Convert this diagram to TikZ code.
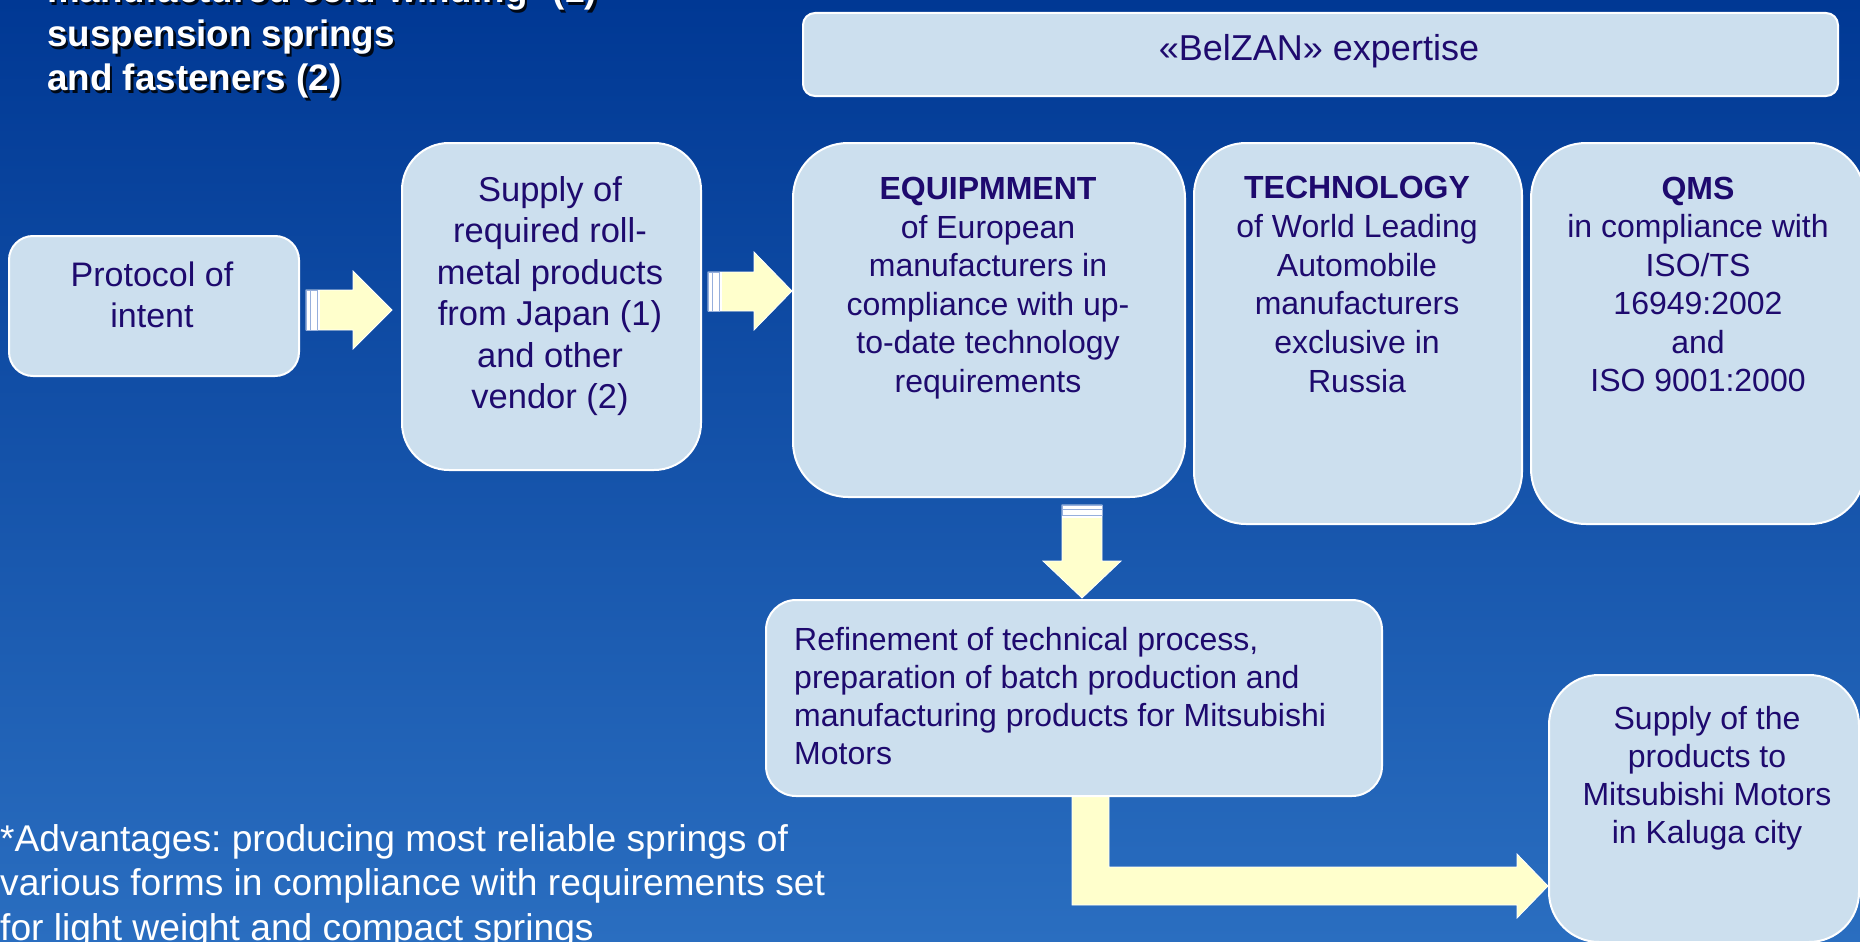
\documentclass[tikz,border=0pt]{standalone}
\usepackage{fontspec}
\setmainfont{Liberation Sans}
\frenchspacing
\definecolor{bgtop}{RGB}{0,56,148}
\definecolor{bgmid}{RGB}{22,82,167}
\definecolor{bgbot}{RGB}{42,110,192}
\definecolor{boxfill}{RGB}{204,223,238}
\definecolor{ink}{RGB}{30,10,110}
\definecolor{arrowfill}{RGB}{255,255,204}
\definecolor{stripeline}{RGB}{150,175,220}
\begin{document}
\begin{tikzpicture}[x=1pt,y=-1pt,
  pbox/.style={draw=white,line width=2pt,fill=boxfill,inner sep=0pt,anchor=north west},
  btext/.style={text=ink,inner sep=0pt,anchor=north,align=center,font=\fontsize{32}{38.5}\selectfont},
  blockarrow/.style={fill=arrowfill,draw=white,line width=0.8pt},
  stripeedge/.style={draw=stripeline,line width=0.8pt},
  wtitle/.style={inner sep=0pt,anchor=north west,align=left,font=\bfseries\fontsize{36.8}{44}\selectfont},
  footnote/.style={text=white,inner sep=0pt,anchor=north west,align=left,font=\fontsize{37.2}{44.5}\selectfont}
]
\useasboundingbox (0,0) rectangle (1860,942);
\clip (0,0) rectangle (1860,942);
\shade[top color=bgtop,middle color=bgmid,bottom color=bgbot] (0,0) rectangle (1860,942);

% title with shadow
\node[wtitle,text=black,opacity=0.85] (titleshadow) at (49.5,-21.5) {manufactured cold-winding* (1)\\suspension springs\\and fasteners (2)};
\node[wtitle,text=white] (title) at (47,-24) {manufactured cold-winding* (1)\\suspension springs\\and fasteners (2)};

% block arrows
\draw[blockarrow] (306,290) -- (353,290) -- (353,271) -- (392,310) -- (353,349) -- (353,330) -- (306,330) -- cycle;
\fill[white] (306,290) rectangle (320,330);
\draw[stripeedge] (306,290) rectangle (310,330) (310,290) rectangle (317,330);

\draw[blockarrow] (708,272) -- (754,272) -- (754,252) -- (792,291) -- (754,330) -- (754,311) -- (708,311) -- cycle;
\fill[white] (708,272) rectangle (722,311);
\draw[stripeedge] (708,272) rectangle (712,311) (712,272) rectangle (719,311);

\draw[blockarrow] (1062,505) -- (1102,505) -- (1102,561) -- (1121,561) -- (1082,598) -- (1043,561) -- (1062,561) -- cycle;
\fill[white] (1062,505) rectangle (1102,518);
\draw[stripeedge] (1062,505) rectangle (1102,509) (1062,509) rectangle (1102,515.5);

\draw[blockarrow] (1072,795) -- (1109,795) -- (1109,867) -- (1517,867) -- (1517,854) -- (1548,886) -- (1517,918) -- (1517,905) -- (1072,905) -- cycle;

% boxes
\node[pbox,rounded corners=24pt,minimum width=290pt,minimum height=140pt] (proto) at (8,235) {};
\node[pbox,rounded corners=47pt,minimum width=299pt,minimum height=327pt] (sup) at (401,142) {};
\node[pbox,rounded corners=12pt,minimum width=1035pt,minimum height=83pt] (belzan) at (802,12) {};
\node[pbox,rounded corners=55pt,minimum width=392pt,minimum height=354pt] (equip) at (792,142) {};
\node[pbox,rounded corners=52pt,minimum width=328pt,minimum height=381pt] (tech) at (1193,142) {};
\node[pbox,rounded corners=55pt,minimum width=334pt,minimum height=381pt] (qms) at (1530,142) {};
\node[pbox,rounded corners=30pt,minimum width=616pt,minimum height=196pt] (refine) at (765,599) {};
\node[pbox,rounded corners=50pt,minimum width=310pt,minimum height=267pt] (prod) at (1548,674) {};

% texts
\node[btext,font=\fontsize{34}{40.5}\selectfont] (protot) at (152,262) {Protocol of\\intent};
\node[btext,font=\fontsize{34.5}{41.5}\selectfont] (supt) at (550,176) {Supply of\\required roll-\\metal products\\from Japan (1)\\and other\\vendor (2)};
\node[text=ink,inner sep=0pt,anchor=base,font=\fontsize{36}{43}\selectfont] (belt) at (1319,61) {«BelZAN» expertise};
\node[btext] (equipt) at (988,177) {\textbf{EQUIPMMENT}\\of European\\manufacturers in\\compliance with up-\\to-date technology\\requirements};
\node[btext,font=\fontsize{32}{38.8}\selectfont] (techt) at (1357,176) {\textbf{TECHNOLOGY}\\of World Leading\\Automobile\\manufacturers\\exclusive in\\Russia};
\node[btext,font=\fontsize{32}{38.4}\selectfont] (qmst) at (1698,177) {\textbf{QMS}\\in compliance with\\ISO/TS\\16949:2002\\and\\ISO 9001:2000};
\node[btext,anchor=north west,align=left,font=\fontsize{32}{38}\selectfont] (reft) at (794,627) {Refinement of technical process,\\preparation of batch production and\\manufacturing products for Mitsubishi\\Motors};
\node[btext,font=\fontsize{32}{38}\selectfont] (prodt) at (1707,706) {Supply of the\\products to\\Mitsubishi Motors\\in Kaluga city};

% footnote
\node[footnote] (note) at (0,824) {*Advantages: producing most reliable springs of\\various forms in compliance with requirements set\\for light weight and compact springs};
\end{tikzpicture}
\end{document}
